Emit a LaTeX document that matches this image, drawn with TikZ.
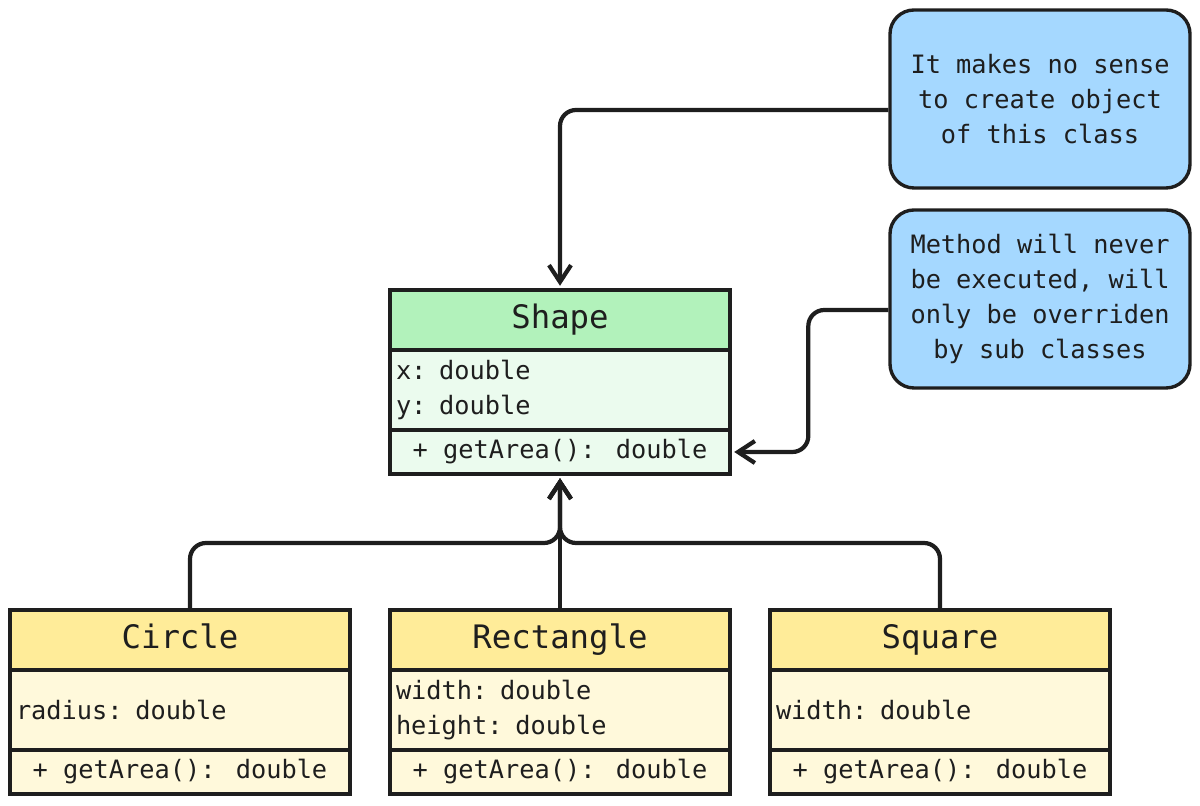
\documentclass[tikz,border=0pt]{standalone}
\usepackage{fontspec}
\setmainfont{DejaVu Sans Mono}
\usetikzlibrary{arrows.meta, positioning}
\definecolor{ink}{HTML}{1E1E1E}
\definecolor{greenhead}{HTML}{B2F2BB}
\definecolor{greenbody}{HTML}{EBFBEE}
\definecolor{yellowhead}{HTML}{FFEC99}
\definecolor{yellowbody}{HTML}{FFF9DB}
\definecolor{noteblue}{HTML}{A5D8FF}

\begin{document}
\begin{tikzpicture}[>={Straight Barb[length=0.42cm, width=0.55cm]}, color=ink,
  classtitle/.style={draw, line width=2.4pt, minimum width=8.5cm, minimum height=1.5cm, inner sep=0pt, outer sep=0pt, text height=17pt, text depth=5pt, font=\fontsize{23}{28}\selectfont},
  classattr/.style={draw, line width=2.4pt, minimum height=2cm, text width=8.2cm, inner xsep=0.15cm, inner ysep=0pt, outer sep=0pt, align=left, font=\fontsize{18}{25}\selectfont},
  classmeth/.style={draw, line width=2.4pt, minimum width=8.5cm, minimum height=1.1cm, inner sep=0pt, outer sep=0pt, font=\fontsize{18}{25}\selectfont},
  note/.style={draw, line width=2.4pt, fill=noteblue, rounded corners=0.6cm, minimum width=7.5cm, minimum height=4.45cm, align=center, font=\fontsize{18}{25}\selectfont},
  link/.style={->, line width=3pt, rounded corners=0.4cm, shorten >=3pt}]
\useasboundingbox (0,0) rectangle (30,20.125);
%
\node[classtitle, fill=greenhead] (shape-title) at (14,12.125) {Shape};
\node[classattr, fill=greenbody, below=0pt of shape-title] (shape-attr) {x: double\\y: double};
\node[classmeth, fill=greenbody, below=0pt of shape-attr] (shape-meth) {+ getArea(): double};
%
\node[classtitle, fill=yellowhead] (circle-title) at (4.5,4.125) {Circle};
\node[classattr, fill=yellowbody, below=0pt of circle-title] (circle-attr) {radius: double};
\node[classmeth, fill=yellowbody, below=0pt of circle-attr] (circle-meth) {+ getArea(): double};
%
\node[classtitle, fill=yellowhead] (rect-title) at (14,4.125) {Rectangle};
\node[classattr, fill=yellowbody, below=0pt of rect-title] (rect-attr) {width: double\\height: double};
\node[classmeth, fill=yellowbody, below=0pt of rect-attr] (rect-meth) {+ getArea(): double};
%
\node[classtitle, fill=yellowhead] (square-title) at (23.5,4.125) {Square};
\node[classattr, fill=yellowbody, below=0pt of square-title] (square-attr) {width: double};
\node[classmeth, fill=yellowbody, below=0pt of square-attr] (square-meth) {+ getArea(): double};
%
\node[note] (note-abstract) at (26,17.65) {It makes no sense\\to create object\\of this class};
\node[note] (note-method) at (26,12.65) {Method will never\\be executed, will\\only be overriden\\by sub classes};
%
\draw[link] ([yshift=-0.275cm]note-abstract.west) -| (shape-title.north);
\draw[link] ([yshift=-0.275cm]note-method.west) -- ++(-2,0) |- (shape-meth.east);
%
\coordinate (junction) at (14,6.55);
\draw[link] ([xshift=0.25cm]circle-title.north) |- (junction) -- (shape-meth.south);
\draw[link] (square-title.north) |- (junction) -- (shape-meth.south);
\draw[link] (rect-title.north) -- (shape-meth.south);
\end{tikzpicture}
\end{document}
